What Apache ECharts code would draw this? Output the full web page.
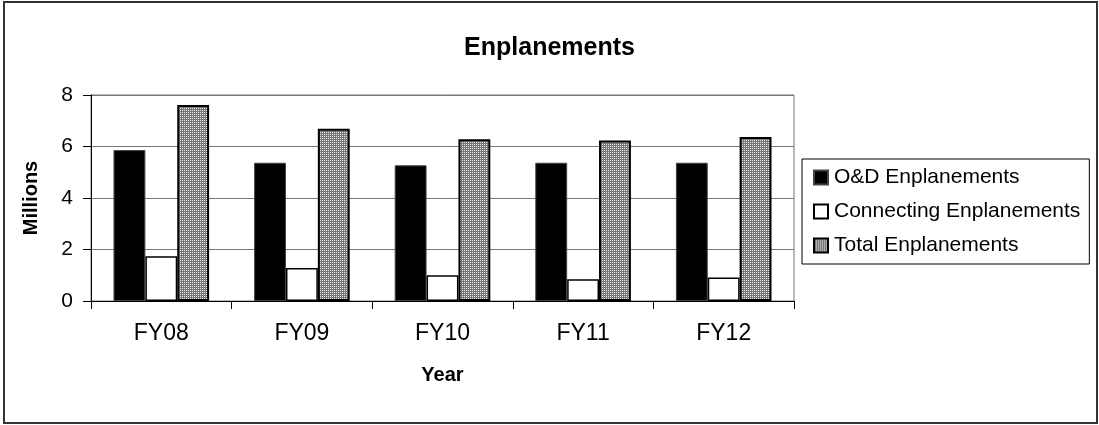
<!DOCTYPE html>
<html>
<head>
<meta charset="utf-8">
<script src="https://cdn.jsdelivr.net/npm/echarts@6/dist/echarts.min.js"></script>
<style>
  html, body { margin: 0; padding: 0; background: #fff; }
  #viz { width: 1099px; height: 425px; }
</style>
</head>
<body>
<div id="viz"></div>
<script>
// Enplanements chart data (millions)
const years = ['FY08', 'FY09', 'FY10', 'FY11', 'FY12'];
const odEnplanements = [5.86, 5.37, 5.27, 5.37, 5.37];
const connectingEnplanements = [1.74, 1.28, 1.0, 0.84, 0.91];
const totalEnplanements = [7.61, 6.69, 6.28, 6.23, 6.37];
const yTicks = { min: 0, max: 8, interval: 2 };

const font = 'Liberation Sans, Arial, sans-serif';

// dotted gray fill like the excel pattern
function makePattern() {
    const c = document.createElement('canvas');
    c.width = 2;
    c.height = 2;
    const ctx = c.getContext('2d');
    ctx.fillStyle = '#777777';
    ctx.fillRect(0, 0, 2, 2);
    ctx.fillStyle = '#e6e6e6';
    ctx.fillRect(0, 0, 1, 1);
    return c;
}

function createChart() {
    var myChart = echarts.init(document.getElementById('viz'));

    var option = {
        backgroundColor: '#fff',
        animation: false,
        title: {
            text: 'Enplanements',
            left: 'center',
            top: 31,
            textStyle: { fontFamily: font, fontSize: 25, fontWeight: 'bold', color: '#000' }
        },
        legend: {
            orient: 'vertical',
            left: 802,
            top: 159,
            padding: [8, 9, 8, 11],
            itemGap: 13,
            itemWidth: 14,
            itemHeight: 14,
            borderColor: '#000',
            borderWidth: 1,
            icon: 'rect',
            textStyle: { fontFamily: font, fontSize: 21, color: '#000', padding: [0, 0, 0, 1] },
            data: ['O&D Enplanements', 'Connecting Enplanements', 'Total Enplanements']
        },
        grid: {
            left: 91,
            right: 305,
            top: 95,
            bottom: 124,
            show: true,
            borderColor: '#777',
            borderWidth: 1
        },
        xAxis: {
            type: 'category',
            data: years,
            name: 'Year',
            nameLocation: 'middle',
            nameGap: 64,
            nameTextStyle: { fontFamily: font, fontSize: 20, fontWeight: 'bold', color: '#000' },
            axisLine: { lineStyle: { color: '#000', width: 1 } },
            axisTick: { show: true, length: 8, lineStyle: { color: '#000' } },
            axisLabel: { fontFamily: font, fontSize: 23, color: '#000', margin: 21 }
        },
        yAxis: {
            type: 'value',
            min: yTicks.min,
            max: yTicks.max,
            interval: yTicks.interval,
            name: 'Millions',
            nameLocation: 'middle',
            nameGap: 50,
            nameRotate: 90,
            nameTextStyle: { fontFamily: font, fontSize: 20, fontWeight: 'bold', color: '#000' },
            axisLine: { show: true, lineStyle: { color: '#000', width: 1 } },
            axisTick: { show: true, length: 8, lineStyle: { color: '#000' } },
            axisLabel: { fontFamily: font, fontSize: 21, color: '#000', margin: 18 },
            splitLine: { show: true, lineStyle: { color: '#777', width: 1 } }
        },
        series: [
            {
                name: 'O&D Enplanements',
                type: 'bar',
                data: odEnplanements,
                barGap: '0%',
                barCategoryGap: '32%',
                itemStyle: { color: '#000', borderColor: '#444', borderWidth: 1 }
            },
            {
                name: 'Connecting Enplanements',
                type: 'bar',
                data: connectingEnplanements,
                barGap: '0%',
                barCategoryGap: '32%',
                itemStyle: { color: '#fff', borderColor: '#000', borderWidth: 1.5 }
            },
            {
                name: 'Total Enplanements',
                type: 'bar',
                data: totalEnplanements,
                barGap: '0%',
                barCategoryGap: '32%',
                itemStyle: {
                    color: { image: makePattern(), repeat: 'repeat' },
                    borderColor: '#000',
                    borderWidth: 2
                }
            }
        ],
        graphic: [{
            type: 'rect',
            shape: { x: 4, y: 2, width: 1093, height: 421 },
            style: { fill: null, stroke: '#333', lineWidth: 2 },
            silent: true
        }]
    };

    myChart.setOption(option);
}

createChart();
</script>
</body>
</html>
